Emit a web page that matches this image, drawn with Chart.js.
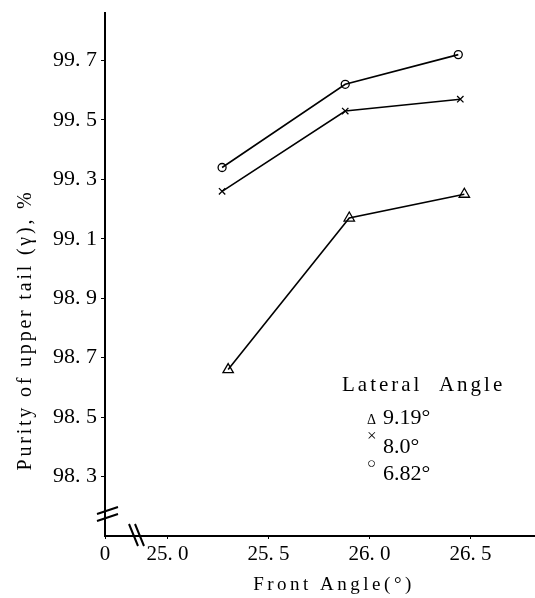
<!DOCTYPE html>
<html>
<head>
<meta charset="utf-8">
<script src="https://cdn.jsdelivr.net/npm/chart.js@4.4.0/dist/chart.umd.min.js"></script>
<style>
html,body{margin:0;padding:0;background:#fff;overflow:hidden;}
#wrap{width:535px;height:598px;position:relative;}
#c{display:block;}
</style>
</head>
<body>
<div id="wrap"><canvas id="c"></canvas></div>
<script>
// ---- data ----
const xCircle   = [25.27, 25.88, 26.44];
const xCross    = [25.27, 25.88, 26.45];
const xTriangle = [25.30, 25.90, 26.47];
const angle682 = [99.34, 99.62, 99.72];   // circle
const angle80  = [99.26, 99.53, 99.57];   // cross
const angle919 = [98.66, 99.17, 99.25];   // triangle
const seriesLabels = ['9.19°', '8.0°', '6.82°'];
const yTicks = [98.3, 98.5, 98.7, 98.9, 99.1, 99.3, 99.5, 99.7];
const xTicks = [25.0, 25.5, 26.0, 26.5];
const xBreakValue = 24.69; // position labelled "0" on the broken axis
const yTitle = 'Purity of upper tail (γ), %';
const xTitle = 'Front Angle(°)';
const legendTitle = 'Lateral  Angle';

const toPts = (xs, ys) => xs.map((x, i) => ({x: x, y: ys[i]}));
const FONT = '"Liberation Serif", "DejaVu Serif", serif';

function noPadding(s) {
  s._calculatePadding = function () {
    this.paddingLeft = 0; this.paddingRight = 0;
    this.paddingTop = 0; this.paddingBottom = 0;
  };
}

const decor = {
  id: 'decor',
  afterDraw(chart) {
    const ctx = chart.ctx;
    ctx.save();
    ctx.fillStyle = '#000';
    ctx.strokeStyle = '#000';
    // y title
    ctx.save();
    ctx.translate(26, 330);
    ctx.rotate(-Math.PI / 2);
    ctx.font = '20px ' + FONT;
    ctx.letterSpacing = '2.8px';
    ctx.textAlign = 'center';
    ctx.textBaseline = 'middle';
    ctx.fillText(yTitle, 0, 0);
    ctx.restore();
    // x title
    ctx.save();
    ctx.font = '19px ' + FONT;
    ctx.letterSpacing = '3.5px';
    ctx.textAlign = 'center';
    ctx.textBaseline = 'alphabetic';
    ctx.fillText(xTitle, 334, 590);
    ctx.restore();
    // legend
    ctx.save();
    ctx.textAlign = 'left';
    ctx.textBaseline = 'alphabetic';
    ctx.font = '21px ' + FONT;
    ctx.letterSpacing = '3px';
    ctx.fillText(legendTitle, 342, 391);
    ctx.restore();
    const marks = ['Δ', '×', '○'];
    const markSize = [14, 17, 15];
    const markY = [424, 441, 468];
    const textY = [424, 453, 480];
    ctx.textAlign = 'left';
    ctx.textBaseline = 'alphabetic';
    for (let i = 0; i < 3; i++) {
      ctx.font = markSize[i] + 'px ' + FONT;
      ctx.fillText(marks[i], 367, markY[i]);
      ctx.font = '22px ' + FONT;
      ctx.fillText(seriesLabels[i], 383, textY[i]);
    }
    // axis break marks
    ctx.lineWidth = 2;
    ctx.beginPath();
    ctx.moveTo(97, 514); ctx.lineTo(118, 507);
    ctx.moveTo(97, 521); ctx.lineTo(118, 514);
    ctx.moveTo(129, 524); ctx.lineTo(138, 546);
    ctx.moveTo(135, 524); ctx.lineTo(144, 546);
    ctx.stroke();
    ctx.restore();
  }
};

const common = {
  borderColor: '#000',
  backgroundColor: '#fff',
  pointBorderColor: '#000',
  pointBackgroundColor: 'rgba(0,0,0,0)',
  borderWidth: 1.6,
  pointBorderWidth: 1.3,
  showLine: true,
  tension: 0
};

new Chart(document.getElementById('c'), {
  type: 'scatter',
  data: {
    datasets: [
      Object.assign({label: seriesLabels[0], data: toPts(xTriangle, angle919), pointStyle: 'triangle', pointRadius: 6}, common),
      Object.assign({label: seriesLabels[1], data: toPts(xCross, angle80), pointStyle: 'crossRot', pointRadius: 4.5}, common),
      Object.assign({label: seriesLabels[2], data: toPts(xCircle, angle682), pointStyle: 'circle', pointRadius: 4}, common)
    ]
  },
  options: {
    responsive: true,
    maintainAspectRatio: false,
    animation: false,
    layout: {autoPadding: false, padding: {top: 13, right: 0, left: 0, bottom: 0}},
    plugins: {legend: {display: false}, tooltip: {enabled: false}},
    scales: {
      x: {
        type: 'linear',
        min: xBreakValue,
        max: 26.82,
        afterBuildTicks: s => { noPadding(s); s.ticks = [xBreakValue].concat(xTicks).map(v => ({value: v})); },
        afterFit: s => { s.height = 62; },
        border: {display: true, color: '#000', width: 2},
        grid: {drawOnChartArea: false, drawTicks: true, tickLength: 3, color: '#000'},
        ticks: {
          color: '#000',
          font: {family: FONT, size: 21},
          padding: 3,
          maxRotation: 0,
          autoSkip: false,
          callback: v => v === xBreakValue ? '0' : v.toFixed(1).replace('.', '. ')
        }
      },
      y: {
        type: 'linear',
        min: 98.1,
        max: 99.86,
        afterBuildTicks: s => { noPadding(s); s.ticks = yTicks.map(v => ({value: v})); },
        afterFit: s => { s.width = 105; },
        border: {display: true, color: '#000', width: 2},
        grid: {drawOnChartArea: false, drawTicks: true, tickLength: 4, color: '#000'},
        ticks: {
          color: '#000',
          font: {family: FONT, size: 22},
          padding: 4,
          autoSkip: false,
          callback: v => v.toFixed(1).replace('.', '. ')
        }
      }
    }
  },
  plugins: [decor]
});
</script>
</body>
</html>
